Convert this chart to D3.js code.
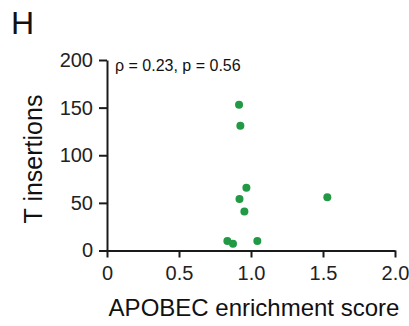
<!DOCTYPE html>
<html>
<head>
<meta charset="utf-8">
<script src="https://cdn.jsdelivr.net/npm/d3@7"></script>
<style>
    body { margin: 0; background: #fff; }
    svg { font-family: "Liberation Sans", Arial, sans-serif; }
    .axis path, .axis line { stroke: #1a1a1a; stroke-width: 2; }
    .axis text { font-size: 20px; fill: #222; }
</style>
</head>
<body>
<svg id="chart" width="409" height="326"></svg>
<script>
// APOBEC enrichment score vs T insertions
var scores = [0.917, 0.926, 0.968, 0.920, 0.954, 0.836, 0.875, 1.044, 1.530];
var insertions = [153, 131, 66, 54, 41, 10, 7, 10, 56];
var xTicks = [0, 0.5, 1.0, 1.5, 2.0];
var yTicks = [0, 50, 100, 150, 200];
var statText = "\u03c1 = 0.23, p = 0.56";

var svg = d3.select("#chart");

var x = d3.scaleLinear().domain([0, 2]).range([107, 395]);
var y = d3.scaleLinear().domain([0, 200]).range([250.5, 60]);

// panel letter
svg.append("text")
    .attr("x", 11)
    .attr("y", 34)
    .attr("font-size", 32)
    .attr("fill", "#111")
    .text("H");

var xAxis = d3.axisBottom(x)
    .tickValues(xTicks)
    .tickSize(7)
    .tickSizeOuter(0)
    .tickPadding(8)
    .tickFormat(function(d) { return d === 0 ? "0" : d3.format(".1f")(d); });

var yAxis = d3.axisLeft(y)
    .tickValues(yTicks)
    .tickSize(8)
    .tickSizeOuter(0)
    .tickPadding(6)
    .tickFormat(d3.format("d"));

svg.append("g")
    .attr("class", "axis")
    .attr("transform", "translate(0," + y(0) + ")")
    .call(xAxis);

svg.append("g")
    .attr("class", "axis")
    .attr("transform", "translate(" + x(0) + ",0)")
    .call(yAxis);

// points
svg.append("g")
    .selectAll("circle")
    .data(scores)
    .enter().append("circle")
    .attr("cx", function(d) { return x(d); })
    .attr("cy", function(d, i) { return y(insertions[i]); })
    .attr("r", 4)
    .attr("fill", "#229944");

// stats
svg.append("text")
    .attr("x", 115)
    .attr("y", 71)
    .attr("font-size", 16)
    .attr("fill", "#111")
    .text(statText);

// axis titles
svg.append("text")
    .attr("x", 254)
    .attr("y", 316)
    .attr("text-anchor", "middle")
    .attr("font-size", 24)
    .attr("fill", "#111")
    .text("APOBEC enrichment score");

svg.append("text")
    .attr("transform", "translate(42,159) rotate(-90)")
    .attr("text-anchor", "middle")
    .attr("font-size", 25)
    .attr("fill", "#111")
    .text("T insertions");
</script>
</body>
</html>
